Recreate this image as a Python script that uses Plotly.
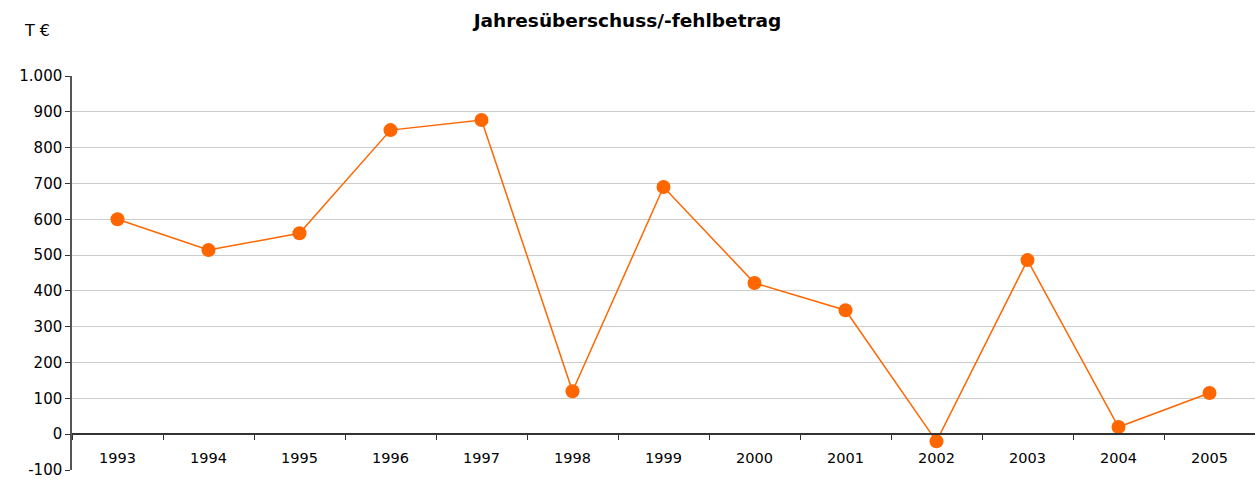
import plotly.graph_objects as go

years = ["1993", "1994", "1995", "1996", "1997", "1998", "1999",
         "2000", "2001", "2002", "2003", "2004", "2005"]
values = [600, 514, 561, 849, 877, 120, 690, 422, 346, -20, 486, 20, 115]
y_ticks = [-100, 0, 100, 200, 300, 400, 500, 600, 700, 800, 900, 1000]
y_tick_labels = ["-100", "0", "100", "200", "300", "400", "500", "600",
                 "700", "800", "900", "1.000"]

y_min, y_max = -100, 1000
zero_pos = (0 - y_min) / (y_max - y_min)

fig = go.Figure()
fig.add_trace(go.Scatter(
    x=years, y=values, mode="lines+markers",
    line=dict(color="#FF6600", width=1.5),
    marker=dict(color="#FF6600", size=14),
    showlegend=False, cliponaxis=False,
))

fig.update_layout(
    width=1255, height=481,
    margin=dict(l=72, r=0, t=76, b=11, autoexpand=False),
    paper_bgcolor="white", plot_bgcolor="white",
    font=dict(family="DejaVu Sans", size=15, color="#000000"),
    title=dict(text="<b>Jahresüberschuss/-fehlbetrag</b>", x=0.5, xanchor="center",
               y=0.958, yanchor="middle", font=dict(size=18.5, family="DejaVu Sans")),
    xaxis=dict(
        type="category", anchor="free", position=zero_pos, automargin=False,
        showline=True, linecolor="#333333", linewidth=1.5,
        ticks="outside", tickson="boundaries", ticklen=5, tickcolor="#333333",
        ticklabelstandoff=11,
        showgrid=False, zeroline=False, range=[-0.5, 12.5],
        tickfont=dict(size=14.5),
    ),
    yaxis=dict(
        range=[y_min, y_max], tickmode="array", tickvals=y_ticks,
        ticktext=y_tick_labels, automargin=False,
        showline=True, linecolor="#555555", linewidth=1.5,
        ticks="outside", ticklen=5, tickcolor="#333333",
        showgrid=True, gridcolor="#CCCCCC", gridwidth=1,
        zeroline=False, tickfont=dict(size=15),
    ),
    annotations=[dict(text="T €", xref="paper", yref="paper", x=-0.03, y=1.115,
                      xanchor="center", yanchor="middle", showarrow=False,
                      font=dict(size=16))],
)

fig.write_html("out.html", config={"displayModeBar": False},
               post_script="document.body.style.margin='0';document.body.style.overflow='hidden';")
